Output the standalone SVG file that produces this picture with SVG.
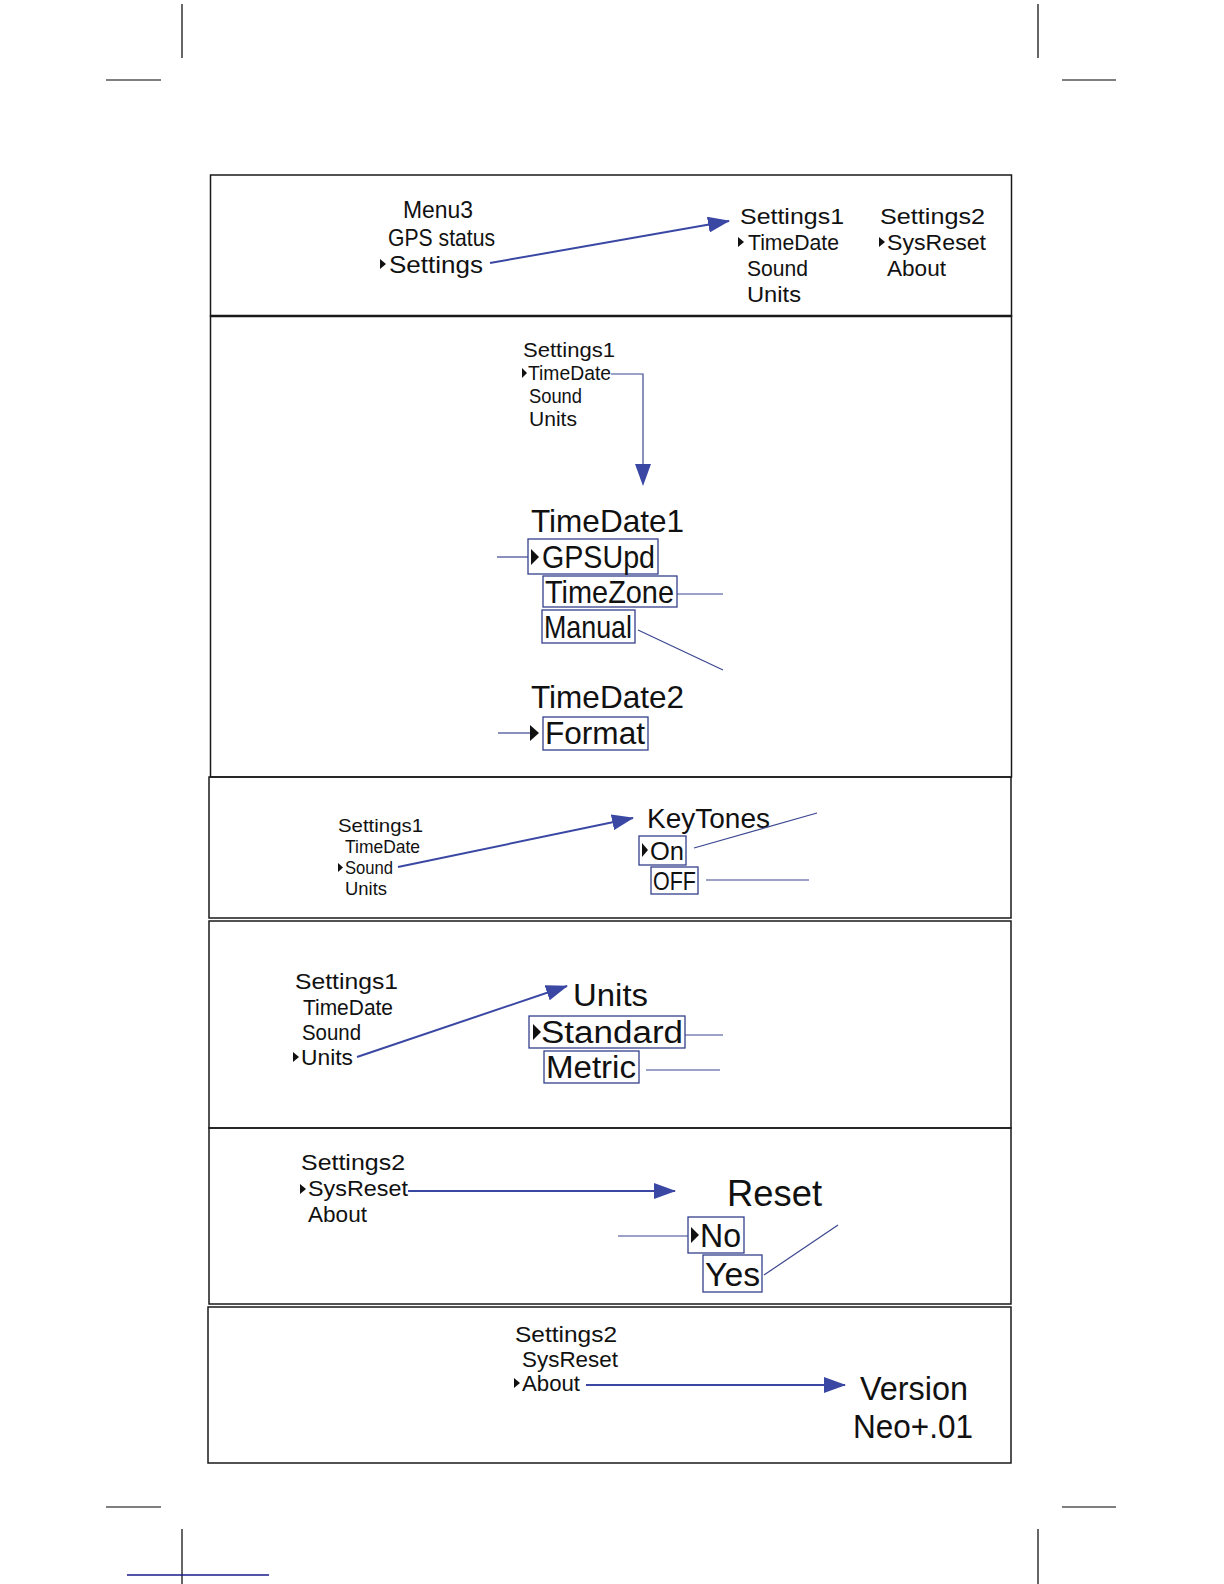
<svg xmlns="http://www.w3.org/2000/svg" width="1224" height="1584" viewBox="0 0 1224 1584">
<defs>
<style>
.t{font-family:"Liberation Sans",Arial,sans-serif;fill:#111;}
.panel{fill:none;stroke:#1a1a1a;stroke-width:1.5;}
.crop{stroke:#000;stroke-width:1.2;fill:none;}
.arr{stroke:#3a48a4;stroke-width:2;fill:none;}
.lead{stroke:#3a4690;stroke-width:1.2;fill:none;}
.box{fill:none;stroke:#33408a;stroke-width:1.3;}
.cur{fill:#111;}
</style>
<marker id="ah" markerUnits="userSpaceOnUse" markerWidth="22" markerHeight="16" refX="21" refY="8" orient="auto" viewBox="0 0 22 16">
<path d="M0,0 L22,8 L0,16 z" fill="#3a48a4"/>
</marker>
</defs>
<rect width="1224" height="1584" fill="#fff"/>
<g id="cropmarks">
<line class="crop" x1="182" y1="4" x2="182" y2="58"/>
<line class="crop" x1="106" y1="80" x2="161" y2="80"/>
<line class="crop" x1="1038" y1="4" x2="1038" y2="58"/>
<line class="crop" x1="1062" y1="80" x2="1116" y2="80"/>
<line class="crop" x1="106" y1="1507" x2="161" y2="1507"/>
<line class="crop" x1="182" y1="1529" x2="182" y2="1584"/>
<line class="crop" x1="1062" y1="1507" x2="1116" y2="1507"/>
<line class="crop" x1="1038" y1="1529" x2="1038" y2="1584"/>
<line x1="127" y1="1575" x2="269" y2="1575" stroke="#1a1a8a" stroke-width="1.3"/>
</g>
<g id="panels">
<rect class="panel" x="210.5" y="175" width="801" height="141"/>
<line x1="210.5" y1="316" x2="1011.5" y2="316" stroke="#1a1a1a" stroke-width="2.5"/>
<rect class="panel" x="210.5" y="316" width="801" height="461"/>
<rect class="panel" x="209" y="777" width="802" height="141"/>
<rect class="panel" x="209" y="921" width="802" height="207"/>
<rect class="panel" x="209" y="1128" width="802" height="176"/>
<rect class="panel" x="208" y="1307" width="803" height="156"/>
</g>

<g id="p1-menu3">
<text class="t" x="403" y="217.5" font-size="24" textLength="70" lengthAdjust="spacingAndGlyphs">Menu3</text>
<text class="t" x="388" y="246" font-size="24" textLength="107" lengthAdjust="spacingAndGlyphs">GPS status</text>
<polygon class="cur" points="380,259 386,264 380,269"/>
<text class="t" x="389" y="273" font-size="24" textLength="94" lengthAdjust="spacingAndGlyphs">Settings</text>
</g>
<g id="p1-settings1">
<text class="t" x="740" y="224" font-size="22.5" textLength="104" lengthAdjust="spacingAndGlyphs">Settings1</text>
<polygon class="cur" points="738,237 744,242 738,247"/>
<text class="t" x="748" y="250" font-size="22.5" textLength="91" lengthAdjust="spacingAndGlyphs">TimeDate</text>
<text class="t" x="747" y="276" font-size="22.5" textLength="61" lengthAdjust="spacingAndGlyphs">Sound</text>
<text class="t" x="747" y="302" font-size="22.5" textLength="54" lengthAdjust="spacingAndGlyphs">Units</text>
</g>
<g id="p1-settings2">
<text class="t" x="880" y="224" font-size="22.5" textLength="105" lengthAdjust="spacingAndGlyphs">Settings2</text>
<polygon class="cur" points="879,237 885,242 879,247"/>
<text class="t" x="887" y="250" font-size="22.5" textLength="99" lengthAdjust="spacingAndGlyphs">SysReset</text>
<text class="t" x="887" y="276" font-size="22.5" textLength="59" lengthAdjust="spacingAndGlyphs">About</text>
</g>

<g id="p2-settings1">
<text class="t" x="523" y="357" font-size="20.5" textLength="92" lengthAdjust="spacingAndGlyphs">Settings1</text>
<polygon class="cur" points="522,368 527,373 522,378"/>
<text class="t" x="528" y="380" font-size="20.5" textLength="83" lengthAdjust="spacingAndGlyphs">TimeDate</text>
<text class="t" x="529" y="403" font-size="20.5" textLength="53" lengthAdjust="spacingAndGlyphs">Sound</text>
<text class="t" x="529" y="426" font-size="20.5" textLength="48" lengthAdjust="spacingAndGlyphs">Units</text>
</g>
<g id="p2-timedate1">
<text class="t" x="531" y="531.5" font-size="32" textLength="153" lengthAdjust="spacingAndGlyphs">TimeDate1</text>
<rect class="box" x="528" y="539" width="130" height="35"/>
<polygon class="cur" points="531,549 539,557 531,565"/>
<text class="t" x="542" y="568" font-size="30.5" textLength="113" lengthAdjust="spacingAndGlyphs">GPSUpd</text>
<rect class="box" x="543" y="576" width="134" height="31"/>
<text class="t" x="545" y="602.5" font-size="30.5" textLength="129" lengthAdjust="spacingAndGlyphs">TimeZone</text>
<rect class="box" x="542" y="610" width="93" height="33"/>
<text class="t" x="544" y="637.5" font-size="30.5" textLength="88" lengthAdjust="spacingAndGlyphs">Manual</text>
</g>
<g id="p2-timedate2">
<text class="t" x="531" y="707.5" font-size="32" textLength="153" lengthAdjust="spacingAndGlyphs">TimeDate2</text>
<polygon class="cur" points="530,725 539,733 530,741"/>
<rect class="box" x="543" y="717" width="105" height="33"/>
<text class="t" x="545" y="744" font-size="31" textLength="100" lengthAdjust="spacingAndGlyphs">Format</text>
</g>

<g id="p3-settings1">
<text class="t" x="338" y="831.5" font-size="18.5" textLength="85" lengthAdjust="spacingAndGlyphs">Settings1</text>
<text class="t" x="345" y="853" font-size="18.5" textLength="75" lengthAdjust="spacingAndGlyphs">TimeDate</text>
<polygon class="cur" points="338,863 343,867.5 338,872"/>
<text class="t" x="345" y="874" font-size="18.5" textLength="48" lengthAdjust="spacingAndGlyphs">Sound</text>
<text class="t" x="345" y="895" font-size="18.5" textLength="42" lengthAdjust="spacingAndGlyphs">Units</text>
</g>
<g id="p3-keytones">
<text class="t" x="647" y="827.5" font-size="28" textLength="123" lengthAdjust="spacingAndGlyphs">KeyTones</text>
<rect class="box" x="639" y="836" width="47" height="29"/>
<polygon class="cur" points="642,843 648,850 642,857"/>
<text class="t" x="650" y="860" font-size="26.5" textLength="34" lengthAdjust="spacingAndGlyphs">On</text>
<rect class="box" x="651" y="867" width="47" height="27"/>
<text class="t" x="653" y="890" font-size="26.5" textLength="43" lengthAdjust="spacingAndGlyphs">OFF</text>
</g>

<g id="p4-settings1">
<text class="t" x="295" y="989" font-size="22" textLength="103" lengthAdjust="spacingAndGlyphs">Settings1</text>
<text class="t" x="303" y="1014.5" font-size="22" textLength="90" lengthAdjust="spacingAndGlyphs">TimeDate</text>
<text class="t" x="302" y="1040" font-size="22" textLength="59" lengthAdjust="spacingAndGlyphs">Sound</text>
<polygon class="cur" points="293,1052 299,1057 293,1062"/>
<text class="t" x="301" y="1065" font-size="22" textLength="52" lengthAdjust="spacingAndGlyphs">Units</text>
</g>
<g id="p4-units">
<text class="t" x="573" y="1006" font-size="32" textLength="75" lengthAdjust="spacingAndGlyphs">Units</text>
<rect class="box" x="529" y="1016" width="156" height="32"/>
<polygon class="cur" points="533,1024 541,1032 533,1040"/>
<text class="t" x="541" y="1043" font-size="31" textLength="142" lengthAdjust="spacingAndGlyphs">Standard</text>
<rect class="box" x="544" y="1051" width="95" height="32"/>
<text class="t" x="546" y="1078" font-size="31" textLength="90" lengthAdjust="spacingAndGlyphs">Metric</text>
</g>

<g id="p5-settings2">
<text class="t" x="301" y="1170" font-size="22.5" textLength="104" lengthAdjust="spacingAndGlyphs">Settings2</text>
<polygon class="cur" points="300,1184 306,1189 300,1194"/>
<text class="t" x="308" y="1196" font-size="22.5" textLength="100" lengthAdjust="spacingAndGlyphs">SysReset</text>
<text class="t" x="308" y="1222" font-size="22.5" textLength="59" lengthAdjust="spacingAndGlyphs">About</text>
</g>
<g id="p5-reset">
<text class="t" x="727" y="1206" font-size="37" textLength="95" lengthAdjust="spacingAndGlyphs">Reset</text>
<rect class="box" x="688" y="1217" width="56" height="36"/>
<polygon class="cur" points="691,1227 699,1235 691,1243"/>
<text class="t" x="700" y="1247" font-size="34" textLength="41" lengthAdjust="spacingAndGlyphs">No</text>
<rect class="box" x="703" y="1255" width="59" height="37"/>
<text class="t" x="705" y="1285.5" font-size="34" textLength="55" lengthAdjust="spacingAndGlyphs">Yes</text>
</g>

<g id="p6-settings2">
<text class="t" x="515" y="1342" font-size="21.5" textLength="102" lengthAdjust="spacingAndGlyphs">Settings2</text>
<text class="t" x="522" y="1366.5" font-size="21.5" textLength="96" lengthAdjust="spacingAndGlyphs">SysReset</text>
<polygon class="cur" points="514,1378 520,1383 514,1388"/>
<text class="t" x="522" y="1391" font-size="21.5" textLength="58" lengthAdjust="spacingAndGlyphs">About</text>
</g>
<g id="p6-version">
<text class="t" x="860" y="1400" font-size="33.5" textLength="108" lengthAdjust="spacingAndGlyphs">Version</text>
<text class="t" x="853" y="1438" font-size="33.5" textLength="120" lengthAdjust="spacingAndGlyphs">Neo+.01</text>
</g>

<g id="connectors">
<line class="arr" x1="490" y1="263" x2="729" y2="221" marker-end="url(#ah)"/>
<polyline class="lead" points="611,374 643,374 643,470"/>
<polygon points="635,464 651,464 643,486" fill="#3a48a4"/>
<line class="lead" x1="497" y1="557" x2="528" y2="557"/>
<line class="lead" x1="677" y1="594" x2="723" y2="594"/>
<line class="lead" x1="638" y1="630" x2="723" y2="670"/>
<line class="lead" x1="498" y1="733" x2="530" y2="733"/>
<line class="arr" x1="398" y1="867" x2="633" y2="818" marker-end="url(#ah)"/>
<line class="lead" x1="694" y1="848" x2="817" y2="813"/>
<line class="lead" x1="706" y1="880" x2="809" y2="880"/>
<line class="arr" x1="357" y1="1057" x2="567" y2="986" marker-end="url(#ah)"/>
<line class="lead" x1="685" y1="1035" x2="723" y2="1035"/>
<line class="lead" x1="646" y1="1070" x2="720" y2="1070"/>
<line class="arr" x1="408" y1="1191" x2="675" y2="1191" marker-end="url(#ah)"/>
<line class="lead" x1="618" y1="1236" x2="688" y2="1236"/>
<line class="lead" x1="764" y1="1275" x2="838" y2="1225"/>
<line class="arr" x1="586" y1="1385" x2="845" y2="1385" marker-end="url(#ah)"/>
</g>
</svg>
